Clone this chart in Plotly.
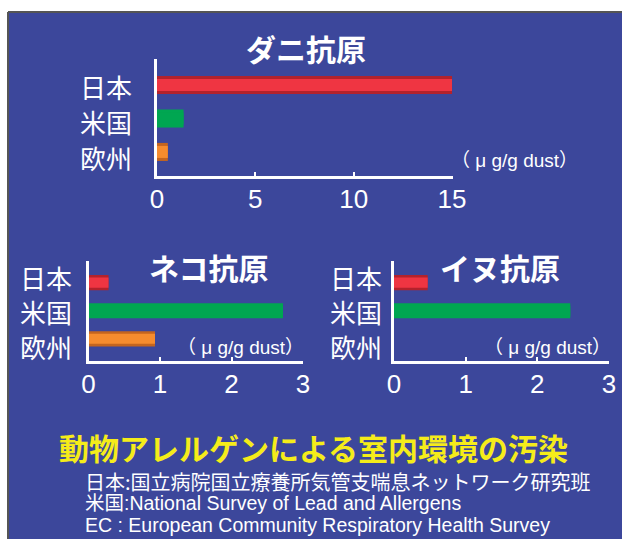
import plotly.graph_objects as go

# ---- data ----
regions = ["日本", "米国", "欧州"]
mite_values = [15.0, 1.35, 0.55]     # ダニ抗原
cat_values = [0.28, 2.72, 0.93]      # ネコ抗原
dog_values = [0.47, 2.46, 0.0]       # イヌ抗原
bar_colors = ["#ef3542", "#00a651", "#f68c2e"]
bar_edge_colors = ["#b3222c", "#00a651", "#c4651f"]
panel_titles = ["ダニ抗原", "ネコ抗原", "イヌ抗原"]
unit_text = "（ μ g/g dust）"
mite_ticks = [0, 5, 10, 15]
small_ticks = [0, 1, 2, 3]
heading = "動物アレルゲンによる室内環境の汚染"
sources = [
    "日本:国立病院国立療養所気管支喘息ネットワーク研究班",
    "米国:National Survey of Lead and Allergens",
    "EC : European Community Respiratory Health Survey",
]
source_fonts = ["Noto Sans CJK JP", "Liberation Sans, Noto Sans CJK JP",
                "Liberation Sans, Noto Sans CJK JP"]
source_sizes = [20, 19.5, 19.5]

W, H = 622, 539
BG = "#3c479b"
CJK = "Noto Sans CJK JP"
LAT = "Liberation Sans, Arial, sans-serif"


def px(x):
    return x / W


def py(y):
    return 1 - y / H


fig = go.Figure()

panels = [
    # values, x0, x1, y_top, y_bottom, xmax, ticks, yrange, axis id, label right x, label ys
    (mite_values, 157, 453, 59, 176, 15.05, mite_ticks, [2.72, -0.78], "", 134, [86, 121, 157]),
    (cat_values, 88.5, 303, 261, 361, 3.0, small_ticks, [2.79, -0.77], "2", 74, [277, 311, 346]),
    (dog_values, 394, 609, 261, 361, 3.0, small_ticks, [2.79, -0.77], "3", 384, [277, 311, 346]),
]

annotations = []
for vals, x0, x1, yt, yb, xmax, ticks, yr, ax, lab_x, lab_ys in panels:
    # darker outer bar + brighter inner bar to mimic the shaded bars
    for colors, w in [(bar_edge_colors, 0.54), (bar_colors, 0.36)]:
        fig.add_trace(go.Bar(
            x=vals, y=regions, orientation="h",
            marker=dict(color=colors, line=dict(width=0)),
            width=w,
            xaxis="x" + ax, yaxis="y" + ax,
            hoverinfo="x+y",
        ))
    fig.layout["xaxis" + ax] = dict(
        domain=[px(x0), px(x1)], range=[0, xmax], anchor="y" + ax,
        tickmode="array", tickvals=ticks, ticktext=[str(t) for t in ticks],
        showline=True, linecolor="white", linewidth=3,
        ticks="inside", ticklen=4, tickwidth=2, tickcolor="white",
        showgrid=False, zeroline=False, automargin=False,
        tickfont=dict(family=LAT, size=26, color="white"),
        ticklabelstandoff=-2, fixedrange=True,
    )
    fig.layout["yaxis" + ax] = dict(
        domain=[py(yb), py(yt)], range=yr, anchor="x" + ax,
        type="category", categoryarray=regions, showticklabels=False,
        showline=True, linecolor="white", linewidth=3, automargin=False,
        ticks="", showgrid=False, zeroline=False, fixedrange=True,
    )
    # category labels (spaced a little wider than the bars, as in the original)
    for name, ly in zip(regions, lab_ys):
        annotations.append(dict(
            text=name, x=px(lab_x), y=py(ly), xref="paper", yref="paper",
            xanchor="right", yanchor="middle", showarrow=False,
            font=dict(family=CJK, size=26, color="white"),
        ))

# panel titles
for title, (cx, cy) in zip(panel_titles, [(306, 48), (208, 267), (500, 267)]):
    annotations.append(dict(
        text="<b>" + title + "</b>", x=px(cx), y=py(cy), xref="paper", yref="paper",
        xanchor="center", yanchor="middle", showarrow=False,
        font=dict(family=CJK, size=30, color="white"),
    ))
# unit labels
for (lx, ly) in [(449, 160), (175, 347), (482, 347)]:
    annotations.append(dict(
        text=unit_text, x=px(lx), y=py(ly), xref="paper", yref="paper",
        xanchor="left", yanchor="middle", showarrow=False,
        font=dict(family="Liberation Sans, Noto Sans CJK JP", size=19, color="white"),
    ))
# heading
annotations.append(dict(
    text="<b>" + heading + "</b>", x=px(314), y=py(447), xref="paper", yref="paper",
    xanchor="center", yanchor="middle", showarrow=False,
    font=dict(family=CJK, size=30, color="#f5ec1a"),
))
# sources
for i, (s, ff, fs) in enumerate(zip(sources, source_fonts, source_sizes)):
    annotations.append(dict(
        text=s, x=px(83), y=py(481 + 22 * i), xref="paper", yref="paper",
        xanchor="left", yanchor="middle", showarrow=False,
        font=dict(family=ff, size=fs, color="white"),
    ))

# white margin at the top/left of the slide with a grey frame line
shapes = [
    dict(type="rect", xref="paper", yref="paper", x0=0, x1=1, y0=py(12), y1=1,
         fillcolor="white", line=dict(width=0), layer="below"),
    dict(type="rect", xref="paper", yref="paper", x0=0, x1=px(8), y0=0, y1=1,
         fillcolor="white", line=dict(width=0), layer="below"),
    dict(type="line", xref="paper", yref="paper", x0=px(8), x1=1, y0=py(12), y1=py(12),
         line=dict(color="#555555", width=2), layer="below"),
    dict(type="line", xref="paper", yref="paper", x0=px(8), x1=px(8), y0=0, y1=py(12),
         line=dict(color="#555555", width=2), layer="below"),
]

fig.update_layout(
    width=W, height=H,
    margin=dict(l=0, r=0, t=0, b=0, autoexpand=False),
    paper_bgcolor=BG, plot_bgcolor="rgba(0,0,0,0)",
    showlegend=False, barmode="overlay",
    annotations=annotations,
    shapes=shapes,
)

fig.write_html("out.html", config={"responsive": False})
